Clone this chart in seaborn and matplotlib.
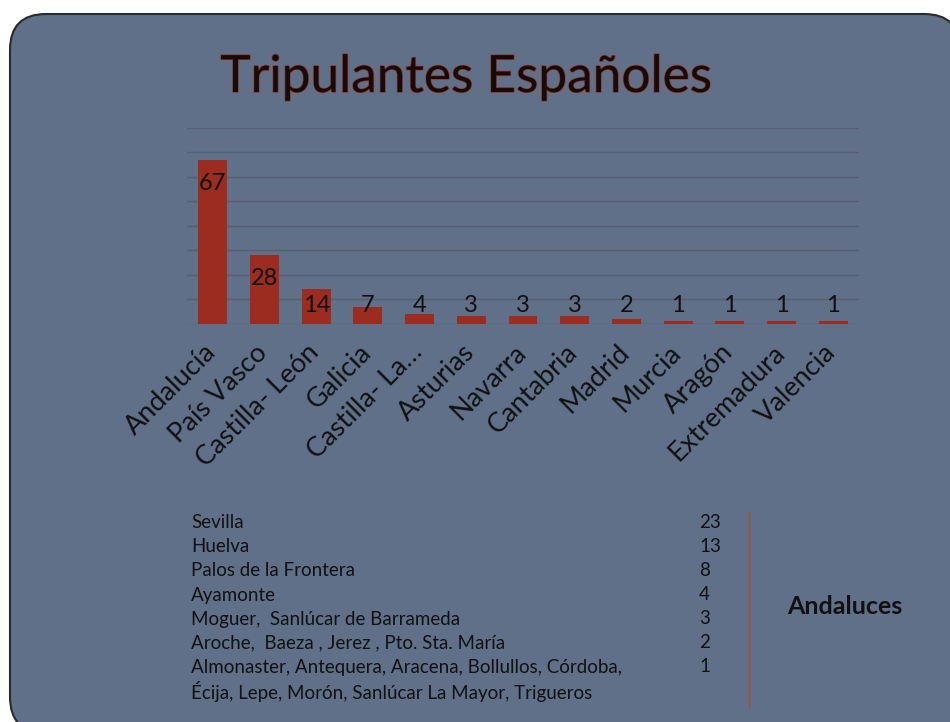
import numpy as np
import pandas as pd
import matplotlib
matplotlib.use('Agg')
import matplotlib.pyplot as plt
import matplotlib.patheffects as pe
from matplotlib.patches import FancyBboxPatch
from matplotlib.transforms import IdentityTransform, ScaledTranslation
import seaborn as sns

# datos
regiones = ['Andalucía', 'País Vasco', 'Castilla- León', 'Galicia', 'Castilla- La…',
            'Asturias', 'Navarra', 'Cantabria', 'Madrid', 'Murcia', 'Aragón',
            'Extremadura', 'Valencia']
tripulantes = [67, 28, 14, 7, 4, 3, 3, 3, 2, 1, 1, 1, 1]

pueblos = ['Sevilla', 'Huelva', 'Palos de la Frontera', 'Ayamonte',
           'Moguer,  Sanlúcar de Barrameda', 'Aroche,  Baeza , Jerez , Pto. Sta. María',
           'Almonaster, Antequera, Aracena, Bollullos, Córdoba,',
           'Écija, Lepe, Morón, Sanlúcar La Mayor, Trigueros']
pueblos_n = ['23', '13', '8', '4', '3', '2', '1', '']

df = pd.DataFrame({'region': regiones, 'n': tripulantes})

sns.set_style('white')
plt.rcParams['font.family'] = ['Lato', 'DejaVu Sans']

bg = '#5f7088'
bar_c = '#9b2c1f'
grid_c = '#56606c'

fig = plt.figure(figsize=(9.5, 7.22), dpi=100)
fig.patch.set_facecolor('white')

# panel redondeado
panel = FancyBboxPatch((10, -11), 950, 719, boxstyle='round,pad=0,rounding_size=36',
                       facecolor=bg, edgecolor='#2a2a2a', linewidth=1.5,
                       transform=IdentityTransform(), zorder=-1)
fig.add_artist(panel)

ax = fig.add_axes([187/950, 1 - 323.7/722, 672/950, 195.7/722])
ax.set_facecolor('none')
sns.barplot(data=df, x='region', y='n', color=bar_c, saturation=1, width=0.56,
            linewidth=0, edgecolor=bar_c, ax=ax, zorder=3)
ax.set_xlim(-0.5, 12.5)
ax.set_ylim(0, 80)
ax.set_yticks(np.arange(0, 81, 10))
ax.yaxis.grid(True, color=grid_c, linewidth=1)
ax.set_axisbelow(True)
ax.tick_params(axis='y', left=False, labelleft=False)
ax.tick_params(axis='x', bottom=False, pad=4)
for s in ax.spines.values():
    s.set_visible(False)
ax.set_xlabel('')
ax.set_ylabel('')

off = ScaledTranslation(-7/72, -4/72, fig.dpi_scale_trans)
for lab in ax.get_xticklabels():
    lab.set_rotation(45)
    lab.set_ha('right')
    lab.set_va('top')
    lab.set_rotation_mode('anchor')
    lab.set_fontsize(19.5)
    lab.set_color('#111111')
    lab.set_transform(lab.get_transform() + off)

for i, v in enumerate(tripulantes):
    ax.text(i, max(v - 9.5, 7.6), str(v), ha='center', va='center',
            fontsize=17, color='#111111', zorder=4)

fig.text(0.4905, 1 - 92/722, 'Tripulantes Españoles', ha='center', va='baseline',
         fontsize=37, color='#140c0a',
         path_effects=[pe.withStroke(linewidth=1.0, foreground='#9a3020')])

# tabla de andaluces
for k, (p, n) in enumerate(zip(pueblos, pueblos_n)):
    y = 1 - (523 + 24 * k) / 722
    fig.text(191/950, y, p, ha='left', va='center', fontsize=13.5, color='#111111')
    fig.text(699/950, y, n, ha='left', va='center', fontsize=13.5, color='#111111')

fig.add_artist(plt.Line2D([749/950, 749/950], [1 - 512/722, 1 - 708/722],
                          color='#b04a30', linewidth=1))
fig.text(845/950, 1 - 607/722, 'Andaluces', ha='center', va='center',
         fontsize=18, fontweight='bold', color='#111111')

fig.savefig('out.png', dpi=100)
